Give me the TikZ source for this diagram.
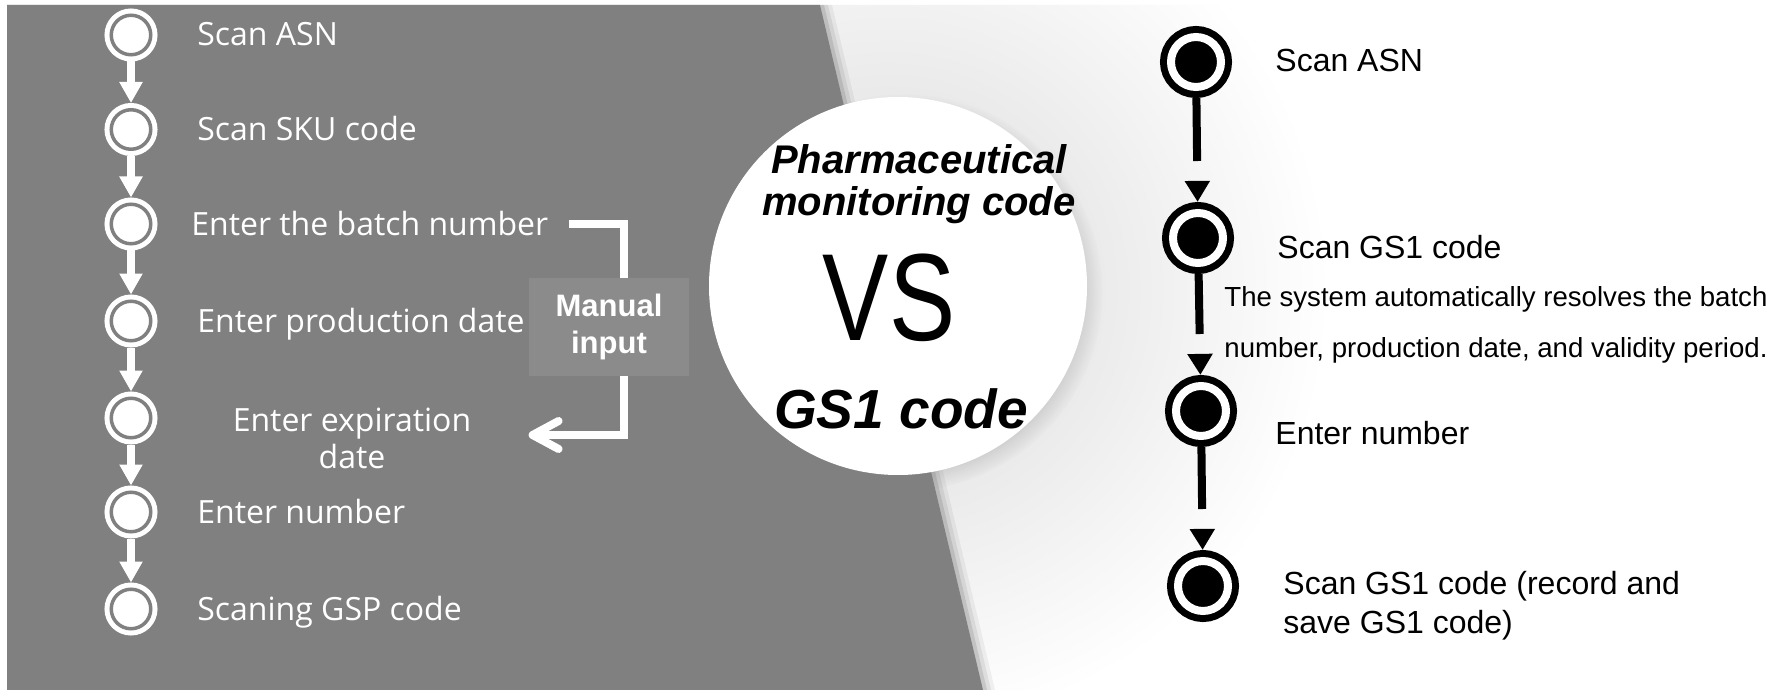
\documentclass[tikz,border=0pt]{standalone}
\usepackage{fontspec}
\usepackage{graphicx}
\setmainfont{Liberation Sans}
\newfontfamily\stepfont{Open Sans}
\usetikzlibrary{arrows.meta}
\usetikzlibrary{shadows}
\usetikzlibrary{calc}
\usetikzlibrary{decorations.markings}

\definecolor{panelgray}{RGB}{128,128,128}
\definecolor{boxgray}{RGB}{139,139,139}

\begin{document}
\begin{tikzpicture}[
    x=0.5pt, y=-0.5pt,
    font=\fontsize{16}{19}\selectfont
]
\tikzset{
    wstep/.style = {circle, draw=white, fill=white, line width=2.5pt, double=panelgray, double distance=1.75pt, minimum size=19.75pt, inner sep=0pt, outer sep=3.375pt},
    bstep/.style = {circle, draw=black, fill=black, line width=3.5pt, double=white, double distance=4pt, minimum size=25pt, inner sep=0pt, outer sep=5.5pt},
    wtext/.style = {text=white, font=\stepfont\fontsize{16}{18.5}\selectfont, anchor=west, inner sep=0pt, text height=11.4pt, text depth=0pt},
    btext/.style = {anchor=west, inner sep=0pt, text height=11.5pt, text depth=0pt},
    manualbox/.style = {rectangle, fill=boxgray, minimum width=80pt, minimum height=49pt, inner sep=0pt, align=center, text=white, font=\bfseries\fontsize{15.5}{18.5}\selectfont},
    disc/.style = {circle, fill=white, minimum size=189pt, inner sep=0pt, circular drop shadow={shadow scale=1.05, shadow xshift=3pt, shadow yshift=-3pt, opacity=.35}},
    warrow/.style = {draw=white, line width=4pt, -{Triangle[length=10.5pt,width=11pt]}},
    barrow/.style = {draw=black, line width=4pt, shorten >=20.5pt, postaction={decorate},
        decoration={markings, mark=at position 0.999 with {\arrow{Triangle[length=10.5pt,width=12pt]}}}},
    wbracket/.style = {draw=white, line width=4pt}
}
\useasboundingbox (0,0) rectangle (1785,690);
\fill[white] (0,0) rectangle (1785,690);
\begin{scope}
    \clip (820,5) -- (1785,5) -- (1785,690) -- (983,690) -- cycle;
    \shade[inner color=gray!30, outer color=white] (890,290) circle (440);
\end{scope}
\fill[black, opacity=.05] (7,5) -- (832,5) -- (995,690) -- (7,690) -- cycle;
\fill[black, opacity=.07] (7,5) -- (828,5) -- (991,690) -- (7,690) -- cycle;
\fill[black, opacity=.10] (7,5) -- (824,5) -- (987,690) -- (7,690) -- cycle;
\fill[panelgray] (7,5) -- (820,5) -- (983,690) -- (7,690) -- cycle;

\node[wstep] at (131,35) (l1) {};
\node[wstep] at (131,129.5) (l2) {};
\node[wstep] at (131,224) (l3) {};
\node[wstep] at (131,321) (l4) {};
\node[wstep] at (131,418) (l5) {};
\node[wstep] at (131,512) (l6) {};
\node[wstep] at (131,609) (l7) {};

\node[wtext] at (197,34) (s1) {Scan ASN};
\node[wtext] at (197,129) (s2) {Scan SKU code};
\node[wtext] at (191,224) (s3) {Enter the batch number};
\node[wtext] at (197,321) (s4) {Enter production date};
\node[text=white, font=\stepfont\fontsize{16}{18.5}\selectfont, align=center, inner sep=0pt] at (352,438) (s5) {Enter expiration\\date};
\node[wtext] at (197,512) (s6) {Enter number};
\node[wtext] at (197,609) (s7) {Scaning GSP code};

\draw[warrow] (l1) -- (l2);
\draw[warrow] (l2) -- (l3);
\draw[warrow] (l3) -- (l4);
\draw[warrow] (l4) -- (l5);
\draw[warrow] (l5) -- (l6);
\draw[warrow] (l6) -- (l7);

\node[manualbox] at (609,327) (manual) {Manual\\input};
\draw[wbracket] ($(s3.east)+(20,0)$) -| ($(manual.north)+(15,0)$);
\draw[wbracket, -{Straight Barb[length=13pt,width=14pt,round]}] ($(manual.south)+(15,0)$) |- ($(s5.east)+(57,-3)$);

\node[disc] at (898,286) (vs) {};
\node[font=\bfseries\itshape\fontsize{20}{21}\selectfont, align=center, inner sep=0pt] at (919,184) (pharma) {Pharmaceutical\\monitoring code};
\node[font=\fontsize{62}{62}\selectfont, inner sep=0pt] at (889,298) (vsign) {\scalebox{0.8}[1]{VS}};
\node[font=\bfseries\itshape\fontsize{27.5}{30}\selectfont, inner sep=0pt, text height=19.7pt, text depth=0pt] at (901,409) (gs1) {GS1 code};

\node[bstep] at (1196,62) (r1) {};
\node[bstep] at (1198,238) (r2) {};
\node[bstep] at (1201,411) (r3) {};
\node[bstep] at (1203,586) (r4) {};

\node[btext] at (1275,60) (t1) {Scan ASN};
\node[btext] at (1277,247) (t2) {Scan GS1 code};
\node[anchor=west, inner sep=0pt, align=left, font=\fontsize{13.8}{25.5}\selectfont] at (1224,325) (note) {The system automatically resolves the batch\\number, production date, and validity period.};
\node[btext] at (1275,433) (t3) {Enter number};
\node[anchor=west, inner sep=0pt, align=left, font=\fontsize{16}{19.5}\selectfont] at (1283,606) (t4) {Scan GS1 code (record and\\save GS1 code)};

\draw[barrow] (r1) -- (r2);
\draw[barrow] (r2) -- (r3);
\draw[barrow] (r3) -- (r4);
\end{tikzpicture}
\end{document}
